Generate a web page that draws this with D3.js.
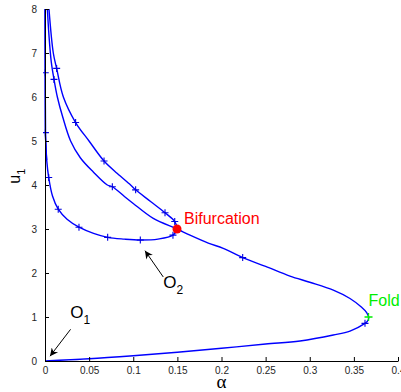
<!DOCTYPE html>
<html lang="en">
<head>
<meta charset="UTF-8">
<title>Bifurcation diagram</title>
<style>
  body { margin: 0; background: #fff; }
  svg { display: block; }
  .tick text { font-family: "Liberation Sans", Arial, sans-serif; font-size: 10px; fill: #262626; }
  .domain, .tick line { stroke: #000; }
</style>
</head>
<body>
<div id="chart"></div>
<script src="https://cdnjs.cloudflare.com/ajax/libs/d3/7.8.5/d3.min.js"></script>
<script>
// main branch: from the top, through the branch point, round the fold, down to O1
var branchAlpha = [0.0027, 0.0045, 0.0071, 0.0102, 0.0140, 0.020, 0.029, 0.040, 0.0545, 0.0706, 0.0763, 0.090, 0.100, 0.1227, 0.1496, 0.1643, 0.185, 0.202, 0.224, 0.250, 0.2776, 0.300, 0.3267, 0.3456, 0.3588, 0.3645, 0.3668, 0.3652, 0.3626, 0.3456, 0.3267, 0.289, 0.250, 0.200, 0.150, 0.100, 0.050, 0];
var branchU     = [8.0, 7.4, 6.8, 6.40, 6.0, 5.55, 5.0, 4.62, 4.3, 4.0, 3.96, 3.74, 3.58, 3.24, 3.0, 2.86, 2.68, 2.56, 2.35, 2.15, 1.93, 1.79, 1.61, 1.42, 1.22, 1.10, 0.98, 0.90, 0.856, 0.68, 0.59, 0.455, 0.385, 0.29, 0.20, 0.12, 0.05, 0];

// second branch: outer curve down to the branch point, then the O2 loop back up the axis
var loopAlpha = [0.0045, 0.0094, 0.0132, 0.0208, 0.0347, 0.0499, 0.0669, 0.082, 0.097, 0.1027, 0.120, 0.136, 0.147, 0.1496, 0.145, 0.128, 0.108, 0.090, 0.071, 0.055, 0.0385, 0.025, 0.015, 0.0085, 0.0042, 0.0019, 0.0008, 0.0005, 0.0003, 0.0001];
var loopU     = [8.0, 7.0, 6.65, 6.0, 5.42, 5.0, 4.545, 4.26, 4.0, 3.89, 3.62, 3.37, 3.17, 3.0, 2.86, 2.77, 2.75, 2.77, 2.81, 2.9, 3.04, 3.22, 3.45, 3.75, 4.17, 4.57, 5.0, 5.19, 6.55, 8.0];

// "+" points stored by the continuation
var markAlpha = [0.0102, 0.0763, 0.224, 0.3626, 0.0132, 0.0347, 0.0669, 0.1027, 0.136, 0.147, 0.145, 0.108, 0.071, 0.0385, 0.015, 0.0042, 0.0005, 0.0003];
var markU     = [6.40, 3.96, 2.35, 0.856, 6.65, 5.42, 4.545, 3.89, 3.37, 3.17, 2.86, 2.75, 2.81, 3.04, 3.45, 4.17, 5.19, 6.55];

var bifPoint = [0.1496, 3.0];
var foldPoint = [0.3666, 1.0];

var xTicks = [0, 0.05, 0.1, 0.15, 0.2, 0.25, 0.3, 0.35, 0.4];
var xTickLabels = ["0", "0.05", "0.1", "0.15", "0.2", "0.25", "0.3", "0.35", "0.4"];
var yTicks = [0, 1, 2, 3, 4, 5, 6, 7, 8];

var W = 401, H = 392;
var margin = { top: 9, right: 3, bottom: 31, left: 45 };
var w = W - margin.left - margin.right;
var h = H - margin.top - margin.bottom;

var svg = d3.select("#chart").append("svg")
    .attr("width", W).attr("height", H);

svg.append("defs").append("marker")
    .attr("id", "arrow")
    .attr("viewBox", "0 0 10 10")
    .attr("refX", 10).attr("refY", 5)
    .attr("markerWidth", 10).attr("markerHeight", 8)
    .attr("markerUnits", "userSpaceOnUse")
    .attr("orient", "auto")
    .append("path")
    .attr("d", "M0,0 L10,5 L0,10 L3,5 Z")
    .attr("fill", "#000");

svg.append("clipPath").attr("id", "plot-clip")
    .append("rect").attr("x", -2).attr("y", 0).attr("width", w + 4).attr("height", h);

var g = svg.append("g").attr("transform", "translate(" + margin.left + "," + margin.top + ")");

var x = d3.scaleLinear().domain([0, 0.4]).range([0, w]);
var y = d3.scaleLinear().domain([0, 8]).range([h, 0]);

var line = d3.line()
    .x(d => x(d[0]))
    .y(d => y(d[1]))
    .curve(d3.curveCatmullRom.alpha(0.5));

var branch = branchAlpha.map((a, i) => [a, branchU[i]]);
var loop = loopAlpha.map((a, i) => [a, loopU[i]]);
var marks = markAlpha.map((a, i) => [a, markU[i]]);

var plot = g.append("g").attr("clip-path", "url(#plot-clip)");

plot.selectAll(".curve")
    .data([branch, loop])
    .enter().append("path")
    .attr("class", "curve")
    .attr("d", line)
    .attr("fill", "none")
    .attr("stroke", "#0000ff")
    .attr("stroke-width", 1.4);

function plusPath(s) {
    return "M" + (-s) + ",0H" + s + "M0," + (-s) + "V" + s;
}

plot.selectAll(".mark")
    .data(marks)
    .enter().append("path")
    .attr("class", "mark")
    .attr("transform", d => "translate(" + x(d[0]) + "," + y(d[1]) + ")")
    .attr("d", plusPath(3.5))
    .attr("stroke", "#0000e0")
    .attr("stroke-width", 1.1)
    .attr("fill", "none");

// axes (MATLAB style, ticks inside, no box)
var xAxis = d3.axisBottom(x).tickValues(xTicks)
    .tickFormat((d, i) => xTickLabels[i])
    .tickSizeInner(-4).tickSizeOuter(0).tickPadding(6);
var yAxis = d3.axisLeft(y).tickValues(yTicks)
    .tickSizeInner(-4).tickSizeOuter(0).tickPadding(8);

g.append("g").attr("transform", "translate(0," + h + ")").call(xAxis);
g.append("g").call(yAxis);

// the O2 loop runs along the axis; redraw that part on top like the figure
plot.append("path")
    .attr("d", line(loop.slice(-5)))
    .attr("fill", "none")
    .attr("stroke", "#0000ff")
    .attr("stroke-width", 1.4);

// special points
g.append("circle")
    .attr("cx", x(bifPoint[0])).attr("cy", y(bifPoint[1]))
    .attr("r", 4.5).attr("fill", "#ff0000");

g.append("path")
    .attr("transform", "translate(" + x(foldPoint[0]) + "," + y(foldPoint[1]) + ")")
    .attr("d", plusPath(4))
    .attr("stroke", "#00ee00").attr("stroke-width", 1.3);

var labelFont = '"Liberation Sans", Arial, sans-serif';

g.append("text")
    .attr("x", x(bifPoint[0]) + 7).attr("y", y(bifPoint[1]) - 5)
    .attr("font-family", labelFont).attr("font-size", 16)
    .attr("fill", "#ff0000")
    .text("Bifurcation");

g.append("text")
    .attr("x", x(foldPoint[0])).attr("y", y(foldPoint[1]) - 11)
    .attr("font-family", labelFont).attr("font-size", 16)
    .attr("fill", "#00ee00")
    .text("Fold");

// O1 / O2 annotations
var notes = [
    { name: "O", sub: "2", tail: [0.134, 1.91], tip: [0.1133, 2.507], at: [0.134, 1.66] },
    { name: "O", sub: "1", tail: [0.029, 0.72], tip: [0.0057, 0.11], at: [0.0285, 0.98] }
];

notes.forEach(function (n) {
    g.append("line")
        .attr("x1", x(n.tail[0])).attr("y1", y(n.tail[1]))
        .attr("x2", x(n.tip[0])).attr("y2", y(n.tip[1]))
        .attr("stroke", "#000").attr("stroke-width", 1)
        .attr("marker-end", "url(#arrow)");
    var t = g.append("text")
        .attr("x", x(n.at[0])).attr("y", y(n.at[1]))
        .attr("font-family", labelFont).attr("font-size", 17)
        .attr("fill", "#000");
    t.append("tspan").text(n.name);
    t.append("tspan").attr("dy", 6).attr("font-size", 12).text(n.sub);
});

// axis labels
var yl = svg.append("text")
    .attr("transform", "translate(20," + (margin.top + y(4.2)) + ") rotate(-90)")
    .attr("text-anchor", "middle")
    .attr("font-family", labelFont).attr("font-size", 16)
    .attr("fill", "#000");
yl.append("tspan").text("u");
yl.append("tspan").attr("dy", 5).attr("font-size", 11).text("1");

svg.append("text")
    .attr("x", margin.left + w / 2).attr("y", H - 4)
    .attr("text-anchor", "middle")
    .attr("font-family", '"Liberation Serif", "DejaVu Serif", serif')
    .attr("font-size", 19)
    .attr("fill", "#000")
    .text("α");
</script>
</body>
</html>
